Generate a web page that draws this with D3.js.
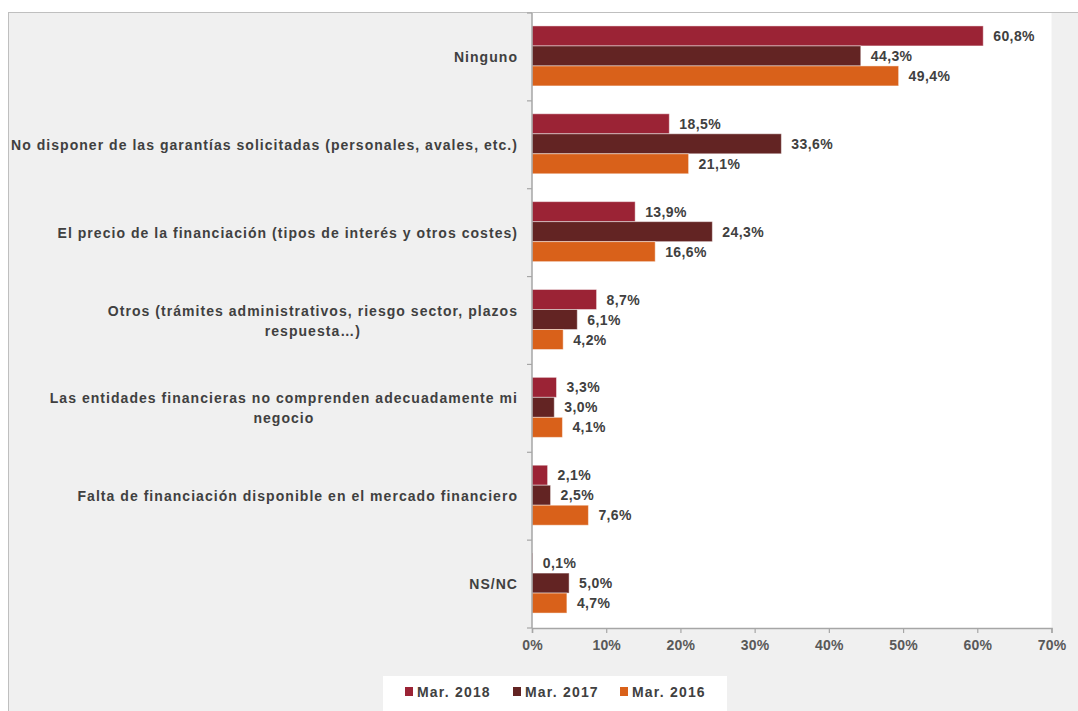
<!DOCTYPE html>
<html>
<head>
<meta charset="utf-8">
<script src="https://cdn.jsdelivr.net/npm/d3@7"></script>
<style>
  html, body { margin: 0; padding: 0; background: #ffffff; }
  svg { display: block; font-family: "Liberation Sans", Arial, sans-serif; }
</style>
</head>
<body>
<svg id="chart" width="1078" height="711"></svg>
<script>
const categories = [
  "Ninguno",
  "No disponer de las garantías solicitadas (personales, avales, etc.)",
  "El precio de la financiación (tipos de interés y otros costes)",
  "Otros (trámites administrativos, riesgo sector, plazos\nrespuesta…)",
  "Las entidades financieras no comprenden adecuadamente mi\nnegocio",
  "Falta de financiación disponible en el mercado financiero",
  "NS/NC"
];
const seriesNames = ["Mar. 2018", "Mar. 2017", "Mar. 2016"];
const mar2018 = [60.8, 18.5, 13.9, 8.7, 3.3, 2.1, 0.1];
const mar2017 = [44.3, 33.6, 24.3, 6.1, 3.0, 2.5, 5.0];
const mar2016 = [49.4, 21.1, 16.6, 4.2, 4.1, 7.6, 4.7];
const xTicks = [0, 10, 20, 30, 40, 50, 60, 70];
const colors = ["#9b2335", "#632423", "#d9611a"];

const seriesValues = [mar2018, mar2017, mar2016];

const svg = d3.select("#chart");

// outer frame
svg.append("rect").attr("x", 8.5).attr("y", 12.5).attr("width", 1100).attr("height", 720)
  .attr("fill", "#f0f0f0").attr("stroke", "#bfbfbf").attr("stroke-width", 1);

const plot = { left: 532, right: 1051.5, top: 13, bottom: 628 };

svg.append("rect").attr("x", plot.left).attr("y", plot.top)
  .attr("width", plot.right - plot.left).attr("height", plot.bottom - plot.top)
  .attr("fill", "#ffffff");

const x = d3.scaleLinear().domain([0, 70]).range([plot.left, plot.right]);
const y = d3.scaleBand().domain(d3.range(categories.length)).range([plot.top, plot.bottom])
  .paddingInner(0).paddingOuter(0);
const groupH = 60;
const sub = d3.scaleBand().domain(d3.range(3)).range([0, groupH]);

const fmt = v => d3.format(".1f")(v).replace(".", ",") + "%";

// bars
seriesValues.forEach((vals, si) => {
  const g = svg.append("g");
  g.selectAll("rect").data(vals).join("rect")
    .attr("x", x(0))
    .attr("y", (d, i) => y(i) + (y.bandwidth() - groupH) / 2 - 1 + sub(si))
    .attr("width", d => x(d) - x(0))
    .attr("height", sub.bandwidth())
    .attr("fill", colors[si])
    .attr("stroke", "rgba(255,255,255,0.45)")
    .attr("stroke-width", 1);
  g.selectAll("text").data(vals).join("text")
    .attr("x", d => x(d) + 10)
    .attr("y", (d, i) => y(i) + (y.bandwidth() - groupH) / 2 - 1 + sub(si) + sub.bandwidth() / 2 + 5)
    .attr("font-size", 14).attr("font-weight", "bold").attr("letter-spacing", 0.4)
    .attr("fill", "#404040")
    .text(d => fmt(d));
});

// x axis
const xAxis = d3.axisBottom(x).tickValues(xTicks).tickSize(5).tickPadding(7)
  .tickFormat(d => d + "%");
const gx = svg.append("g").attr("transform", `translate(0,${plot.bottom})`).call(xAxis);
gx.select(".domain").attr("stroke", "#a6a6a6").attr("stroke-width", 1.5);
gx.selectAll(".tick line").attr("stroke", "#a6a6a6").attr("stroke-width", 1.2);
gx.selectAll(".tick text").attr("font-size", 14).attr("font-weight", "bold")
  .attr("font-family", "Liberation Sans, Arial, sans-serif")
  .attr("fill", "#595959").attr("letter-spacing", 0.2);

// y axis line and ticks at band boundaries
const yAxisG = svg.append("g");
yAxisG.append("line").attr("x1", plot.left).attr("x2", plot.left)
  .attr("y1", plot.top).attr("y2", plot.bottom)
  .attr("stroke", "#a6a6a6").attr("stroke-width", 1.5);
yAxisG.selectAll("line.t").data(d3.range(categories.length + 1)).join("line")
  .attr("class", "t")
  .attr("x1", plot.left - 5).attr("x2", plot.left)
  .attr("y1", i => plot.top + i * y.step()).attr("y2", i => plot.top + i * y.step())
  .attr("stroke", "#a6a6a6").attr("stroke-width", 1.2);

// category labels (block right-aligned, lines centered to each other)
const labelRight = 518;
categories.forEach((c, i) => {
  const lines = c.split("\n");
  const cy = y(i) + y.bandwidth() / 2;
  const lh = 20;
  const tmp = svg.append("g");
  const texts = lines.map((ln, li) => tmp.append("text")
    .attr("font-size", 14).attr("font-weight", "bold").attr("letter-spacing", 1.04)
    .attr("fill", "#404040")
    .attr("y", cy + (li - (lines.length - 1) / 2) * lh + 5)
    .text(ln));
  const widths = texts.map(t => t.node().getComputedTextLength());
  const maxW = d3.max(widths);
  const centerX = labelRight - maxW / 2;
  texts.forEach(t => t.attr("x", centerX).attr("text-anchor", "middle"));
});

// legend
const lg = svg.append("g");
lg.append("rect").attr("x", 383).attr("y", 676).attr("width", 344).attr("height", 40).attr("fill", "#ffffff");
const legendX = [405, 513, 620];
seriesNames.forEach((n, i) => {
  lg.append("rect").attr("x", legendX[i]).attr("y", 687).attr("width", 8).attr("height", 9)
    .attr("fill", colors[i]);
  lg.append("text").attr("x", legendX[i] + 12).attr("y", 697)
    .attr("font-size", 14).attr("font-weight", "bold").attr("letter-spacing", 1.2)
    .attr("fill", "#404040").text(n);
});
</script>
</body>
</html>
